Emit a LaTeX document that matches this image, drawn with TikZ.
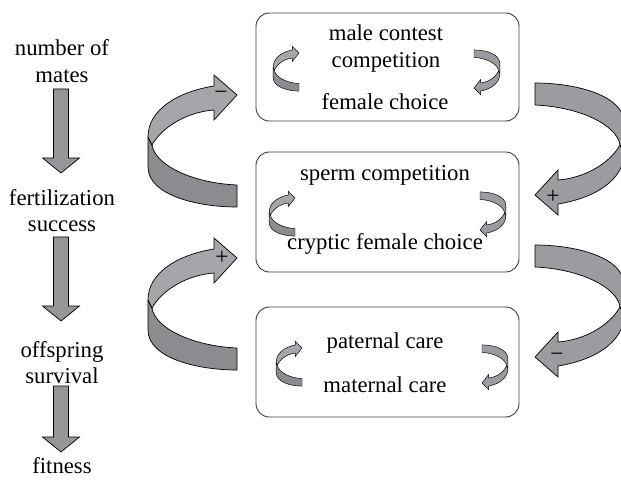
\documentclass[tikz,border=0pt]{standalone}
\usepackage{fontspec}
\setmainfont{Liberation Serif}
\definecolor{rlight}{RGB}{166,166,170}
\definecolor{rdark}{RGB}{140,140,144}
\definecolor{rmid}{RGB}{156,156,160}
\definecolor{arrgray}{RGB}{150,150,154}
\begin{document}
\begin{tikzpicture}[x=0.03cm,y=-0.03cm,
  lbl/.style={font=\fontsize{19.4}{23}\selectfont, anchor=base, inner sep=0pt},
  sgn/.style={font=\fontsize{20}{20}\selectfont, inner sep=0pt},
  panel/.style={draw=black!75, line width=0.8pt, rounded corners=0.4cm},
  downarr/.style={fill=arrgray, draw=black, line width=0.6pt, line join=miter},
  ribbon/.pic={
    \filldraw[fill=rdark, draw=black, line width=\pgfkeysvalueof{/tikz/ribbonlw}, line join=round]
      (-89,42) -- (-89,72) .. controls (-89,100) and (-40,112) .. (0,112) -- (0,90)
      .. controls (-45,88) and (-82,70) .. (-85,50) -- cycle;
    \filldraw[fill=rlight, draw=black, line width=\pgfkeysvalueof{/tikz/ribbonlw}, line join=miter]
      (-23,-9) -- (-23,-20) -- (0,0) -- (-23,25) -- (-23,15)
      .. controls (-50,17) and (-75,32) .. (-85,50) -- (-89,42)
      .. controls (-89,15) and (-60,-3) .. (-23,-9) -- cycle;
  },
  ribbonlw/.initial=0.6pt
]
\useasboundingbox (0,0) rectangle (621,486);

% left column
\node[lbl] (nm1) at (62,56) {number of};
\node[lbl] (nm2) at (62,83) {mates};
\node[lbl] (fs1) at (62,206) {fertilization};
\node[lbl] (fs2) at (62,232) {success};
\node[lbl] (os1) at (62,357) {offspring};
\node[lbl] (os2) at (62,383) {survival};
\node[lbl] (fit) at (62,473) {fitness};

\foreach \t/\b/\p in {89/158/173, 237/306/321, 386/437/452}{
  \draw[downarr] (53.5,\t) -- (68.5,\t) -- (68.5,\b) -- (79.5,\b) -- (61,\p) -- (42.5,\b) -- (53.5,\b) -- cycle;
}

% boxes
\draw[panel] (256,13) rectangle (519,121);
\draw[panel] (256,152) rectangle (519,272);
\draw[panel] (256,307) rectangle (519,417);

\node[lbl] (b1a) at (386,41) {male contest};
\node[lbl] (b1b) at (386,68) {competition};
\node[lbl] (b1c) at (385,110) {female choice};
\node[lbl] (b2a) at (385,181) {sperm competition};
\node[lbl] (b2b) at (385,250) {cryptic female choice};
\node[lbl] (b3a) at (385,348) {paternal care};
\node[lbl] (b3b) at (385,392) {maternal care};

% big ribbons, left
\pic at (237,95) {ribbon};
\pic at (237,258) {ribbon};
% big ribbons, right
\begin{scope}
  \colorlet{rlight}{rmid}\colorlet{rdark}{rmid}
  \pic[rotate=180] at (535,195) {ribbon};
  \pic[rotate=180] at (535,357) {ribbon};
\end{scope}

% small ribbons
\begin{scope}[ribbonlw=0.4pt]
  \pic[xscale=0.29,yscale=0.34] at (299,53) {ribbon};
  \pic[xscale=0.29,yscale=0.34] at (295,198) {ribbon};
  \pic[xscale=0.29,yscale=0.34] at (302,348) {ribbon};
  \colorlet{rlight}{rmid}\colorlet{rdark}{rmid}
  \pic[rotate=180,xscale=0.29,yscale=0.34] at (474,88) {ribbon};
  \pic[rotate=180,xscale=0.29,yscale=0.34] at (480,230) {ribbon};
  \pic[rotate=180,xscale=0.29,yscale=0.34] at (482,383) {ribbon};
\end{scope}

% signs
\node[sgn] (s1) at (221,95) {−};
\node[sgn] (s2) at (222,258) {+};
\node[sgn] (s3) at (553,197) {+};
\node[sgn] (s4) at (557,357) {−};
\end{tikzpicture}
\end{document}
